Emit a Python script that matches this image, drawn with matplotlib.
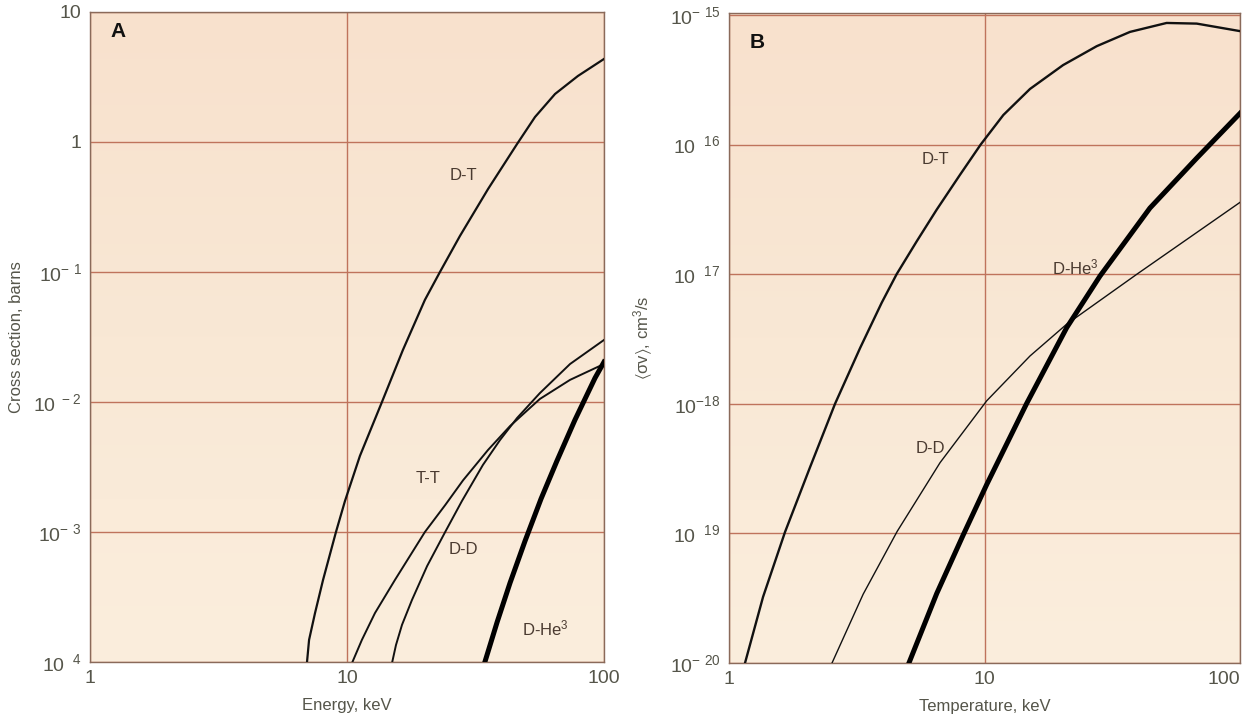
import numpy as np
import matplotlib
matplotlib.use('Agg')
import matplotlib.pyplot as plt
from matplotlib.colors import LinearSegmentedColormap

plt.rcParams['font.family'] = ['Liberation Sans', 'DejaVu Sans']
plt.rcParams['mathtext.default'] = 'regular'

# Panel A: cross sections (barns) vs energy (keV)
dt_energy = [6.99, 7.12, 7.51, 8.07, 9.06, 9.82, 11.23, 13.68, 16.5, 20.1, 23.0,
             27.5, 35.4, 45.9, 53.9, 64.5, 79.2, 100]
dt_sigma = [1e-4, 1.48e-4, 2.38e-4, 4.28e-4, 1e-3, 1.73e-3, 3.85e-3, 1e-2, 2.51e-2,
            6.1e-2, 0.1, 0.189, 0.435, 0.965, 1.556, 2.34, 3.22, 4.35]

tt_energy = [10.5, 11.43, 12.85, 15.37, 20.1, 24.1, 28.3, 35.4, 43.1, 56.3, 73.8, 100]
tt_sigma = [1e-4, 1.48e-4, 2.38e-4, 4.28e-4, 1e-3, 1.61e-3, 2.5e-3, 4.28e-3,
            6.53e-3, 1.055e-2, 1.48e-2, 0.0196]

dd_energy = [15.0, 15.51, 16.37, 17.9, 20.5, 24.1, 28.0, 33.8, 39.4, 45.9, 56.3, 73.8, 100]
dd_sigma = [1e-4, 1.35e-4, 1.93e-4, 3.0e-4, 5.47e-4, 1e-3, 1.73e-3, 3.28e-3, 5.1e-3,
            7.53e-3, 1.17e-2, 1.96e-2, 0.030]

dhe3_energy = [34.4, 38.4, 43.1, 49.3, 56.9, 65.6, 77.1, 92.3, 100]
dhe3_sigma = [1e-4, 2.03e-4, 4.06e-4, 8.53e-4, 1.80e-3, 3.52e-3, 7.28e-3, 1.53e-2, 2.03e-2]

# Panel B: reactivity <sigma v> (cm^3/s) vs temperature (keV), as log10 values
dt_temp = [1.155, 1.359, 1.656, 2.075, 2.60, 3.26, 3.96, 4.53, 5.43, 6.50, 8.02,
           9.66, 11.85, 15.07, 20.3, 27.5, 37.1, 51.6, 67.7, 100]
dt_rate = [-20.0, -19.49, -18.99, -18.49, -18.0, -17.569, -17.22, -17.0, -16.746,
           -16.502, -16.233, -16.0, -15.772, -15.571, -15.387, -15.241, -15.131,
           -15.062, -15.067, -15.125]

dd_temp = [2.53, 3.35, 4.55, 6.70, 10.2, 15.07, 21.0, 39.5, 100]
dd_rate = [-20.0, -19.469, -18.985, -18.454, -17.977, -17.631, -17.385, -17.0, -16.446]

dhe3_temp = [5.06, 6.50, 8.24, 10.2, 14.6, 20.97, 28.3, 44.4, 67.7, 100]
dhe3_rate = [-20.0, -19.464, -19.015, -18.623, -18.0, -17.413, -17.015, -16.49,
             -16.105, -15.759]

a_yticks = [1e1, 1, 1e-1, 1e-2, 1e-3, 1e-4]
a_ylabels = ['10', '1', r'$10^{-\ 1}$', r'$10^{\ -2}$', r'$10^{-\ 3}$', r'$10^{\ \ 4}$']
b_yticks = [1e-15, 1e-16, 1e-17, 1e-18, 1e-19, 1e-20]
b_ylabels = [r'$10^{-\ 15}$', r'$10^{\ \ 16}$', r'$10^{\ \ 17}$', r'$10^{-18}$',
             r'$10^{\ \ 19}$', r'$10^{-\ 20}$']
xticks = [1, 10, 100]
xlabels = ['1', '10', '100']

TEXT = '#55554a'
GRID = '#bf735c'
paper = LinearSegmentedColormap.from_list('paper', ['#fbeedd', '#f9e8d5', '#f8e1cd'])


def style_axes(ax):
    ax.set_xscale('log')
    ax.set_yscale('log')
    grad = np.linspace(0, 1, 256).reshape(-1, 1)
    ax.imshow(grad, cmap=paper, aspect='auto', extent=[0, 1, 0, 1],
              transform=ax.transAxes, origin='lower', zorder=0)
    for side in ax.spines.values():
        side.set_color('#8a6a5a')
        side.set_linewidth(1.0)
    ax.tick_params(length=0, labelcolor=TEXT, labelsize=14, pad=6)
    ax.set_xticks(xticks)
    ax.set_xticklabels(xlabels)
    ax.minorticks_off()
    ax.grid(True, which='major', color=GRID, linewidth=1.0, zorder=1)


fig = plt.figure(figsize=(12.43, 7.17), dpi=100)
fig.patch.set_facecolor('white')

ax1 = fig.add_axes([0.0724, 0.0767, 0.4135, 0.9066])
style_axes(ax1)
ax1.plot(dt_energy, dt_sigma, color='#111', lw=1.6, zorder=3)
ax1.plot(tt_energy, tt_sigma, color='#111', lw=1.4, zorder=3)
ax1.plot(dd_energy, dd_sigma, color='#111', lw=1.4, zorder=3)
ax1.plot(dhe3_energy, dhe3_sigma, color='#000', lw=3.6, zorder=3)
ax1.set_xlim(1, 100)
ax1.set_ylim(1e-4, 10)
ax1.set_yticks(a_yticks)
ax1.set_yticklabels(a_ylabels)
ax1.minorticks_off()
ax1.set_xlabel('Energy, keV', color=TEXT, fontsize=12, labelpad=8)
ax1.set_ylabel('Cross section, barns', color=TEXT, fontsize=12)
ax1.yaxis.set_label_coords(-0.128, 0.5)
ax1.text(0.039, 0.985, 'A', transform=ax1.transAxes, fontsize=15, fontweight='bold',
         color='#111', va='top', zorder=4)
lab = dict(color='#4a3a30', fontsize=12, ha='center', va='center', zorder=4)
ax1.text(28.5, 0.55, 'D-T', **lab)
ax1.text(20.7, 2.6e-3, 'T-T', **lab)
ax1.text(28.5, 7.3e-4, 'D-D', **lab)
ax1.text(59, 1.8e-4, r'D-He$^3$', **lab)

ax2 = fig.add_axes([0.5865, 0.0753, 0.4111, 0.9066])
style_axes(ax2)
ax2.plot(dt_temp, 10.0 ** np.array(dt_rate), color='#111', lw=1.7, zorder=3)
ax2.plot(dd_temp, 10.0 ** np.array(dd_rate), color='#111', lw=1.0, zorder=3)
ax2.plot(dhe3_temp, 10.0 ** np.array(dhe3_rate), color='#000', lw=3.6, zorder=3)
ax2.set_xlim(1, 100)
ax2.set_ylim(1e-20, 10 ** -14.985)
ax2.set_yticks(b_yticks)
ax2.set_yticklabels(b_ylabels)
ax2.get_xticklabels()[-1].set_horizontalalignment('right')
ax2.minorticks_off()
ax2.set_xlabel('Temperature, keV', color=TEXT, fontsize=12, labelpad=8)
ax2.set_ylabel(r'$\langle\sigma v\rangle$, cm$^3$/s', color=TEXT, fontsize=12)
ax2.yaxis.set_label_coords(-0.145, 0.5)
ax2.text(0.041, 0.969, 'B', transform=ax2.transAxes, fontsize=15, fontweight='bold',
         color='#111', va='top', zorder=4)
ax2.text(6.4, 10 ** -16.115, 'D-T', **lab)
ax2.text(22.6, 10 ** -16.946, r'D-He$^3$', **lab)
ax2.text(6.13, 10 ** -18.346, 'D-D', **lab)

fig.savefig('out.png', dpi=100, facecolor='white')
